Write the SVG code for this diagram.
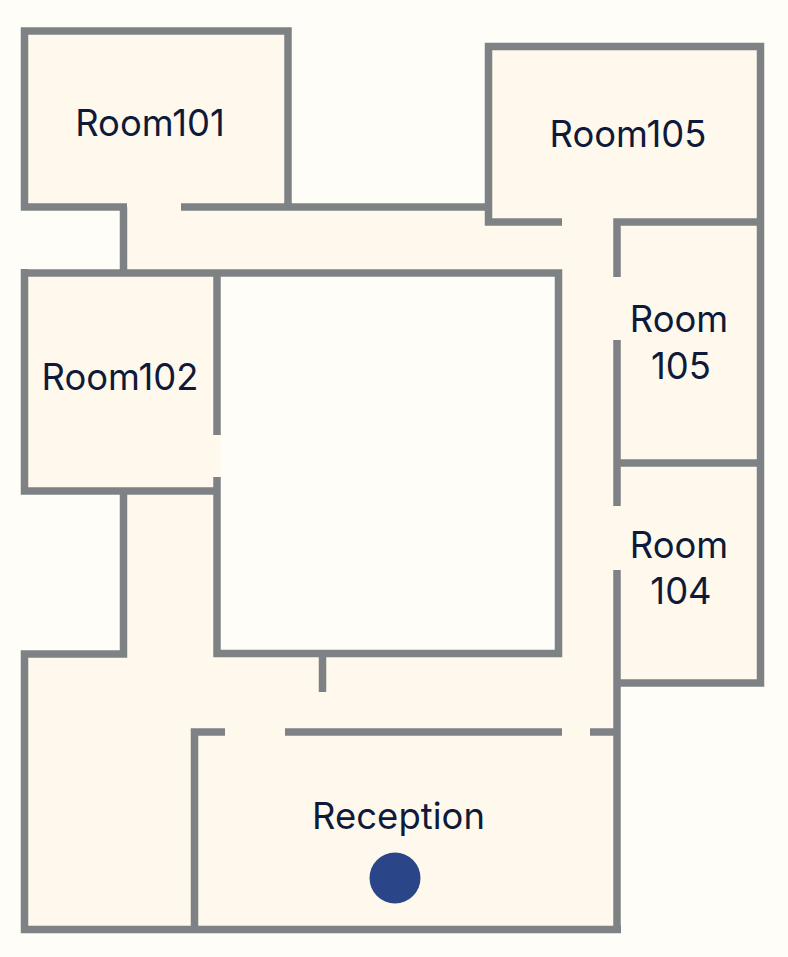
<svg xmlns="http://www.w3.org/2000/svg" width="788" height="957" viewBox="0 0 788 957">
<style>
.wall{fill:none;stroke:#7f8285;stroke-width:7.5;stroke-linecap:butt;stroke-linejoin:miter}
.label{font-family:"Inter","Liberation Sans",sans-serif;font-size:36.4px;fill:#0f1a3a;text-anchor:middle}
</style>
<rect id="background" width="788" height="957" fill="#fffdf8"/>
<path id="floor" fill="#fef9ec" d="M24.5 31H288V207H488.5V46.5H760.5V683H617.5V929.5H24.5V654H123.5V491H24.5V273H123.5V207H24.5Z"/>
<rect id="courtyard" x="217" y="273" width="341.5" height="381" fill="#fffdf8"/>
<rect id="door-room102" x="213" y="435" width="8" height="42" fill="#fef9ec"/>
<g id="walls" class="wall">
<path d="M181 207H488.5M127 207H24.5V31H288V207"/>
<path d="M562 222H488.5V46.5H760.5V683H617.5"/>
<path d="M617 277V222H760.5M617 340V506M617 463H760.5M617 570V929.5"/>
<path d="M123.5 207V273M24.5 273H558.5V653.5H217V477M217 273V435"/>
<path d="M24.5 269V491H217M123.5 491V654H24.5V929.5H621"/>
<path d="M322.5 654V692"/>
<path d="M225 732H194.5V929.5M285 732H562M590 732H617.5"/>
</g>
<g id="room101"><text class="label" x="150" y="136">Room101</text></g>
<g id="room105-top"><text class="label" x="628" y="147">Room105</text></g>
<g id="room102"><text class="label" x="120" y="390">Room102</text></g>
<g id="room105-side"><text class="label" x="679" y="332">Room</text><text class="label" x="681" y="379">105</text></g>
<g id="room104"><text class="label" x="679" y="558">Room</text><text class="label" x="681" y="604">104</text></g>
<g id="reception"><text class="label" x="398.500" y="829" textLength="173" lengthAdjust="spacing">Reception</text><circle cx="395" cy="878" r="25.500" fill="#2a4689"/></g>
</svg>
